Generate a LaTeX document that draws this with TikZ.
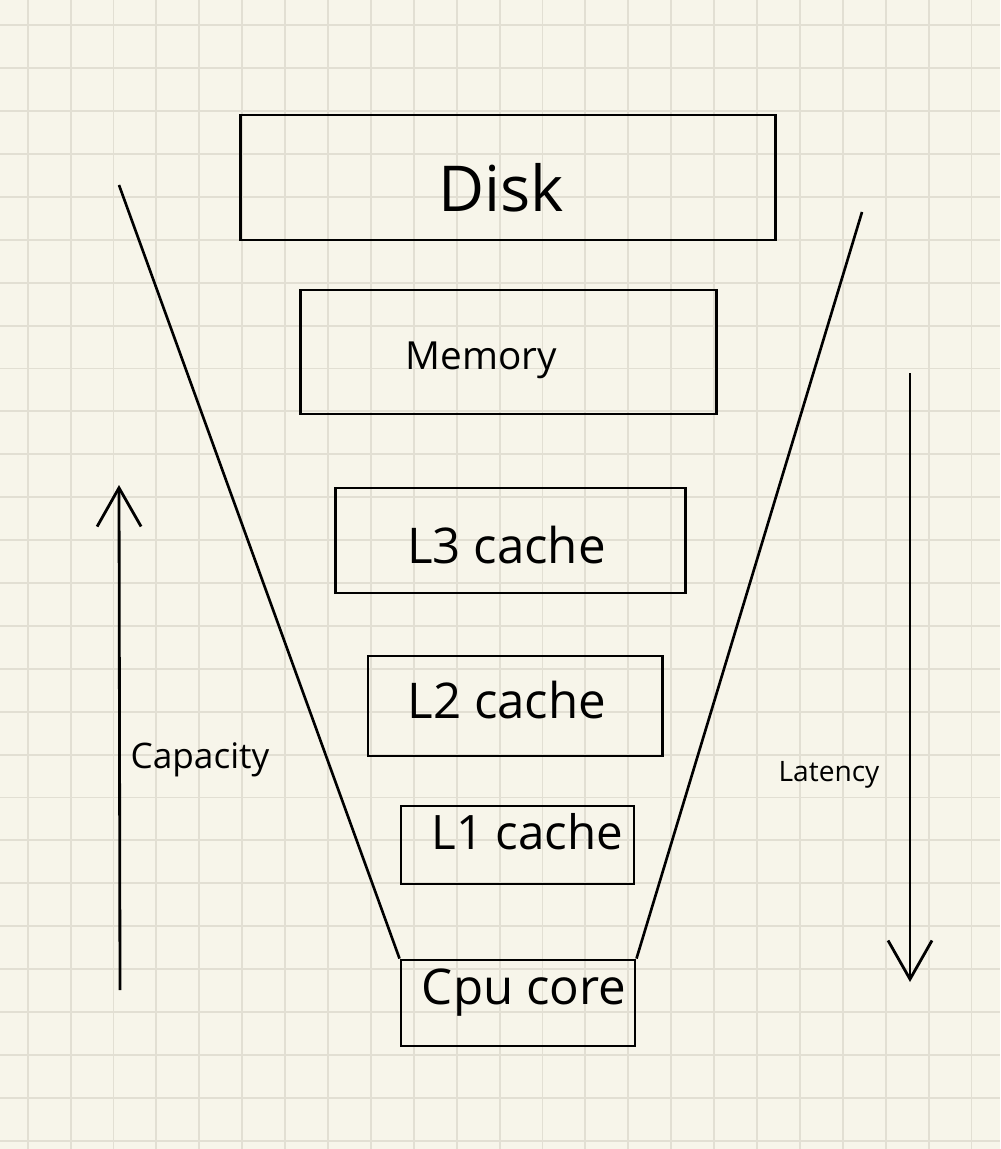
\documentclass[tikz,border=0pt]{standalone}
\usepackage{fontspec}
\setmainfont{Open Sans}
\usetikzlibrary{arrows.meta}
\definecolor{paper}{HTML}{F7F5EA}
\definecolor{gridline}{HTML}{E2DFD3}
\tikzset{%
    level/.style={draw, line width=0.8pt, inner sep=0pt},
    funnel/.style={line width=0.75pt},
    axis/.style={line width=0.8pt, -{Straight Barb[length=11pt, width=12.5pt, line width=0.8pt]}},
    gridrule/.style={gridline, line width=0.55pt},
}

\begin{document}
\begin{tikzpicture}[x=0.01cm, y=-0.01cm]
	\useasboundingbox (0,0) rectangle (1000,1149);
	\fill[paper] (0,0) rectangle (1000,1149);
	\foreach \k in {0,...,22} \draw[gridrule] (27.7+42.9*\k,0) -- (27.7+42.9*\k,1149);
	\foreach \k in {0,...,26} \draw[gridrule] (0,25.3+42.9*\k) -- (1000,25.3+42.9*\k);

	\node[level, minimum width=5.34cm, minimum height=1.25cm,
		label={[xshift=-0.07cm, yshift=-0.10cm, font=\fontsize{18}{20}\selectfont]center:Disk}] (disk) at (508,177.5) {};
	\node[level, minimum width=4.15cm, minimum height=1.24cm,
		label={[xshift=-0.27cm, yshift=-0.08cm, font=\fontsize{11}{13}\selectfont]center:Memory}] (memory) at (508.5,352) {};
	\node[level, minimum width=3.49cm, minimum height=1.05cm,
		label={[xshift=-0.04cm, yshift=-0.05cm, font=\fontsize{14}{16}\selectfont]center:L3 cache}] (l3) at (510.5,540.5) {};
	\node[level, minimum width=2.94cm, minimum height=1.00cm,
		label={[xshift=-0.08cm, yshift=0.06cm, font=\fontsize{14}{16}\selectfont]center:L2 cache}] (l2) at (515,706) {};
	\node[level, minimum width=2.33cm, minimum height=0.78cm,
		label={[xshift=0.10cm, yshift=0.13cm, font=\fontsize{13.5}{15}\selectfont]center:L1 cache}] (l1) at (517.5,845) {};
	\node[level, minimum width=2.34cm, minimum height=0.86cm,
		label={[xshift=0.06cm, yshift=0.10cm, font=\fontsize{14}{16}\selectfont]center:Cpu core}] (cpu) at (518,1003) {};

	\coordinate (fl) at (119,185);
	\coordinate (fr) at (862,212);
	\draw[funnel] (fl) -- (cpu.north west);
	\draw[funnel] (fr) -- (cpu.north east);

	\coordinate (cap0) at (120,990);
	\coordinate (cap1) at (119,485);
	\coordinate (lat0) at (910,373);
	\coordinate (lat1) at (910,982);
	\draw[axis] (cap0) -- (cap1);
	\draw[axis] (lat0) -- (lat1);

	\node[font=\fontsize{10}{12}\selectfont] (capacity) at (200,760) {Capacity};
	\node[font=\fontsize{8}{10}\selectfont] (latency) at (829,775) {Latency};
\end{tikzpicture}
\end{document}
